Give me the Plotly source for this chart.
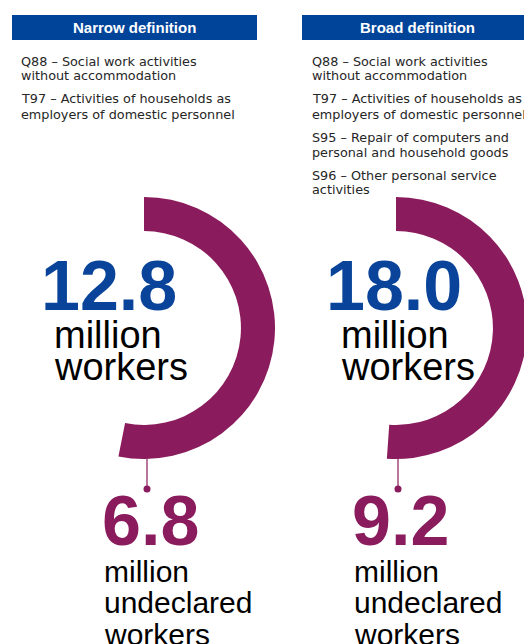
import plotly.graph_objects as go

W, H = 532, 644
OFF = 8  # page body margin of the browser

definitions = ["Narrow definition", "Broad definition"]
sectors = [
    [["Q88 – Social work activities", "without accommodation"],
     ["T97 – Activities of households as", "employers of domestic personnel"]],
    [["Q88 – Social work activities", "without accommodation"],
     ["T97 – Activities of households as", "employers of domestic personnel"],
     ["S95 – Repair of computers and", "personal and household goods"],
     ["S96 – Other personal service", "activities"]],
]
total_workers = [12.8, 18.0]
undeclared_workers = [6.8, 9.2]
total_label = ["million", "workers"]
undeclared_label = ["million", "undeclared", "workers"]

BLUE = "#0A449A"
HEAD = "#00449A"
PURPLE = "#8A1B5D"

# panel geometry (screen pixels)
ring_cx = [144, 396]
ring_cy = 328
ring_r = 131
header_x = [(12, 257), (302, 532)]
text_x = [20, 311]
num_cx = [108.5, 393.5]
lbl_x = [52, 339]
sub_x = [103, 353]
conn_x = [147, 398]


def px(x):
    return (x - OFF) / W


def py(y):
    return 1 - (y - OFF) / H


fig = go.Figure()
shapes = []
annotations = []


def ann(text, x, y, size, color, family="Liberation Sans", xanchor="left"):
    annotations.append(dict(text=text, xref="paper", yref="paper", x=px(x), y=py(y),
                            xanchor=xanchor, yanchor="middle", showarrow=False,
                            align="left", font=dict(family=family, size=size, color=color)))


for i in range(2):
    tot = total_workers[i]
    und = undeclared_workers[i]
    cx = ring_cx[i]
    fig.add_trace(go.Pie(
        values=[und, tot - und],
        labels=["Undeclared", "Other"],
        marker=dict(colors=[PURPLE, "rgba(0,0,0,0)"], line=dict(width=0)),
        hole=0.74,
        sort=False,
        direction="clockwise",
        rotation=0,
        textinfo="none",
        hoverinfo="skip",
        showlegend=False,
        domain=dict(x=[px(cx - ring_r), px(cx + ring_r)],
                    y=[py(ring_cy + ring_r), py(ring_cy - ring_r)]),
    ))
    # header box
    x0, x1 = header_x[i]
    shapes.append(dict(type="rect", xref="paper", yref="paper",
                       x0=px(x0), x1=px(x1), y0=py(40), y1=py(15),
                       fillcolor=HEAD, line=dict(width=0), layer="below"))
    ann("<b>" + definitions[i] + "</b>", (x0 + x1) / 2, 28, 15, "white", xanchor="center")
    # sector list
    y = 61
    for s in sectors[i]:
        ann(s[0], text_x[i] - 1, y, 12.8, "#262626", family="DejaVu Sans")
        ann(s[1], text_x[i] - 1, y + 15, 12.8, "#262626", family="DejaVu Sans")
        y += 38
    # connector
    lx = conn_x[i]
    shapes.append(dict(type="line", xref="paper", yref="paper", x0=px(lx), x1=px(lx),
                       y0=py(ring_cy + ring_r), y1=py(489), line=dict(color=PURPLE, width=1.2)))
    shapes.append(dict(type="circle", xref="paper", yref="paper", x0=px(lx - 3.5), x1=px(lx + 3.5),
                       y0=py(492.5), y1=py(485.5), fillcolor=PURPLE, line=dict(width=0)))
    # big total number
    ann("<b>%.1f</b>" % tot, num_cx[i], 286, 70, BLUE, xanchor="center")
    ann(total_label[0], lbl_x[i], 334.5, 38, "black")
    ann(total_label[1], lbl_x[i], 366.5, 38, "black")
    # undeclared
    ann("<b>%.1f</b>" % und, sub_x[i] - 3, 520.5, 70, PURPLE)
    for k, t in enumerate(undeclared_label):
        ann(t, sub_x[i] - 1, 571 + 31.5 * k, 30, "black")

fig.update_layout(width=W, height=H, margin=dict(l=0, r=0, t=0, b=0),
                  paper_bgcolor="white", plot_bgcolor="white",
                  shapes=shapes, annotations=annotations)
fig.write_html("out.html")
